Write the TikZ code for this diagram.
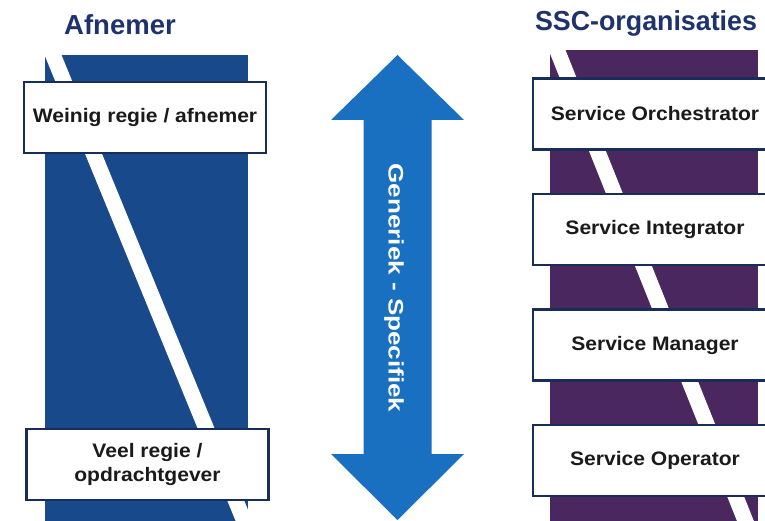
\documentclass[tikz,border=0pt]{standalone}
\usepackage{fontspec}
\setmainfont{Liberation Sans}
\usepackage{graphicx}
\definecolor{panelblue}{HTML}{17498B}
\definecolor{panelpurple}{HTML}{4A275E}
\definecolor{arrowblue}{HTML}{1A70C0}
\definecolor{titlenavy}{HTML}{1E326E}
\definecolor{boxborder}{HTML}{192D5A}
\definecolor{textdark}{HTML}{1A1A1A}
\newcommand{\boxwide}[1]{\scalebox{1.08}[1]{#1}}
\begin{document}
\begin{tikzpicture}[x=1pt,y=-1pt,
  rolebox/.style={draw=boxborder, line width=2.2pt, fill=white, inner sep=0pt,
    minimum height=71pt, text=textdark, align=center,
    font=\fontsize{19.5}{24.5}\selectfont\bfseries},
  leftbox/.style={rolebox, minimum width=242pt},
  rightbox/.style={rolebox, minimum width=244pt},
  titletext/.style={text=titlenavy, anchor=base, inner sep=0pt,
    font=\fontsize{27.5}{30}\selectfont\bfseries},
  stripe/.style={white, line width=15.7pt},
  arrowtext/.style={text=white, rotate=-90, inner sep=0pt,
    font=\fontsize{21}{24}\selectfont\bfseries}]
\useasboundingbox (0,0) rectangle (765,521);
\clip (0,0) rectangle (765,521);
\fill[white] (0,0) rectangle (765,521);

% titles
\node[titletext] (tleft) at (120,35) {Afnemer};
\node[titletext] (tright) at (646,31) {\scalebox{0.975}[1]{SSC-organisaties}};

% left panel
\fill[panelblue] (45,55) rectangle (248,525);
\begin{scope}
  \clip (45,55) rectangle (248,525);
  \draw[stripe] (48.9,45) -- (248.2,531);
\end{scope}

% right panel
\fill[panelpurple] (550,50) rectangle (758,525);
\begin{scope}
  \clip (550,50) rectangle (758,525);
  \draw[stripe] (553,40) -- (749.4,531);
\end{scope}

% left boxes
\node[leftbox] (weinig) at (145,117.5) {\boxwide{Weinig regie / afnemer}};
\node[leftbox] (veel) at (147.5,464.5) {\boxwide{Veel regie /}\\\boxwide{opdrachtgever}};

% right boxes
\node[rightbox] (orch) at (655,114) {\boxwide{Service Orchestrator}};
\node[rightbox] (integ) at (655,229.5) {\boxwide{Service Integrator}};
\node[rightbox] (manag) at (655,345) {\boxwide{Service Manager}};
\node[rightbox] (oper) at (655,460.5) {\boxwide{Service Operator}};

% double arrow
\fill[arrowblue] (397.5,55) -- (464,120) -- (431.5,120) -- (431.5,454)
  -- (464,454) -- (397.5,520) -- (331,454) -- (363.5,454) -- (363.5,120)
  -- (331,120) -- cycle;
\node[arrowtext] (spectrum) at (394,288) {\scalebox{1.24}[1]{Generiek - Specifiek}};
\end{tikzpicture}
\end{document}
